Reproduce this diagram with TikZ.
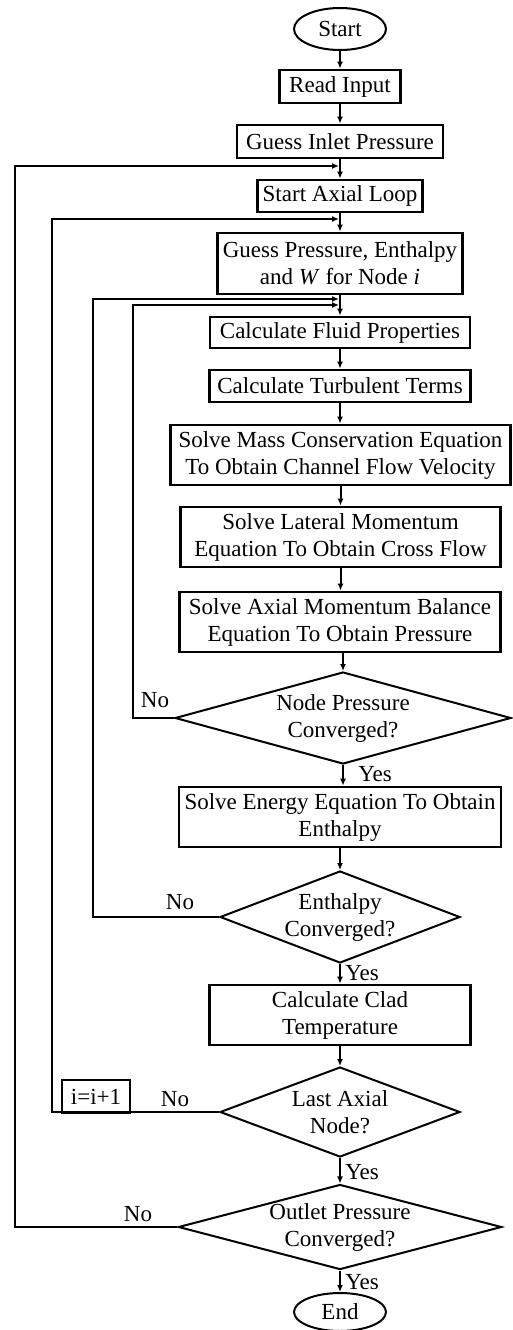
\documentclass[tikz,border=0pt]{standalone}
\usepackage{fontspec}
\setmainfont{Liberation Serif}
\usetikzlibrary{shapes.geometric,arrows.meta}

\tikzset{
  every node/.style={font=\fontsize{23}{27}\selectfont},
  proc/.style={draw, rectangle, line width=2.8pt, inner sep=0pt, align=center},
  decision/.style={draw, diamond, line width=2pt, inner sep=0pt, align=center},
  term/.style={draw, ellipse, line width=2pt, inner sep=0pt, minimum width=92pt},
  flow/.style={line width=2pt, -{Latex[length=7pt,width=6pt]}},
  lbl/.style={inner sep=0pt}
}

\begin{document}
\begin{tikzpicture}[x=1pt,y=-1pt]
	\useasboundingbox (0,0) rectangle (512,1330);

	% main column
	\node[term, minimum height=42pt] (start) at (340,29) {Start};
	\node[proc, minimum width=121pt, minimum height=33pt] (read) at (340,86.5) {Read Input};
	\node[proc, minimum width=206pt, minimum height=33pt] (inlet) at (340,141.5) {Guess Inlet Pressure};
	\node[proc, minimum width=165pt, minimum height=32pt] (axial) at (340,196) {Start Axial Loop};
	\node[proc, minimum width=245pt, minimum height=61pt] (guess) at (340,263.5)
		{Guess Pressure, Enthalpy\\and \textit{W} for Node \textit{i}};
	\node[proc, minimum width=260pt, minimum height=31pt] (fluid) at (340,332.5) {Calculate Fluid Properties};
	\node[proc, minimum width=261pt, minimum height=32pt] (turb) at (340,386) {Calculate Turbulent Terms};
	\node[proc, minimum width=340pt, minimum height=60pt] (mass) at (340.5,455)
		{Solve Mass Conservation Equation\\To Obtain Channel Flow Velocity};
	\node[proc, minimum width=320pt, minimum height=60pt] (lateral) at (340.5,537)
		{Solve Lateral Momentum\\Equation To Obtain Cross Flow};
	\node[proc, minimum width=321pt, minimum height=60pt] (axmom) at (340,622)
		{Solve Axial Momentum Balance\\Equation To Obtain Pressure};
	\node[decision, aspect=3.65, minimum width=336pt, minimum height=92pt] (nodep) at (343,718)
		{Node Pressure\\Converged?};
	\node[proc, minimum width=322pt, minimum height=60pt] (energy) at (340,817)
		{Solve Energy Equation To Obtain\\Enthalpy};
	\node[decision, aspect=2.6, minimum width=240pt, minimum height=92pt] (enth) at (340,917)
		{Enthalpy\\Converged?};
	\node[proc, minimum width=261pt, minimum height=60pt] (clad) at (340,1015)
		{Calculate Clad\\Temperature};
	\node[decision, aspect=2.65, minimum width=240pt, minimum height=90pt] (last) at (340,1112)
		{Last Axial\\Node?};
	\node[decision, aspect=3.8, minimum width=318pt, minimum height=84pt] (outlet) at (340,1227)
		{Outlet Pressure\\Converged?};
	\node[term, minimum height=38pt] (end) at (340,1312) {End};

	% counter
	\node[proc, line width=2pt, minimum width=68pt, minimum height=33pt] (inc) at (96,1096.5) {i=i+1};

	% straight flow
	\draw[flow] (start.south) -- (read.north);
	\draw[flow] (read.south) -- (inlet.north);
	\draw[flow] (inlet.south) -- (axial.north);
	\draw[flow] (axial.south) -- (guess.north);
	\draw[flow] (guess.south) -- (fluid.north);
	\draw[flow] (fluid.south) -- (turb.north);
	\draw[flow] (turb.south) -- (turb.south |- mass.north);
	\draw[flow] (mass.south) -- (lateral.north);
	\draw[flow] (lateral.south) -- (lateral.south |- axmom.north);
	\draw[flow] (axmom.south -| nodep.north) -- (nodep.north);
	\draw[flow] (nodep.south) -- (nodep.south |- energy.north);
	\draw[flow] (energy.south) -- (enth.north);
	\draw[flow] (enth.south) -- (clad.north);
	\draw[flow] (clad.south) -- (last.north);
	\draw[flow] (last.south) -- (outlet.north);
	\draw[flow] (outlet.south) -- (end.north);

	% loop returns
	\coordinate (j1) at (339,166);
	\coordinate (j2) at (339,219);
	\coordinate (j3) at (339,299);
	\coordinate (j4) at (339,305);
	\draw[flow] (outlet.west) -| (15,166) -- (j1);
	\draw[flow] (last.west) -| (52,219) -- (j2);
	\draw[flow] (enth.west) -| (93,299) -- (j3);
	\draw[flow] (nodep.west) -| (133,305) -- (j4);

	% branch labels
	\node[lbl] (no1) at (155,700) {No};
	\node[lbl] (no2) at (180,902) {No};
	\node[lbl] (no3) at (175,1099) {No};
	\node[lbl] (no4) at (138,1214) {No};
	\node[lbl] (yes1) at (375,774) {Yes};
	\node[lbl] (yes2) at (362,973) {Yes};
	\node[lbl] (yes3) at (362,1172) {Yes};
	\node[lbl] (yes4) at (362,1282) {Yes};
\end{tikzpicture}
\end{document}
